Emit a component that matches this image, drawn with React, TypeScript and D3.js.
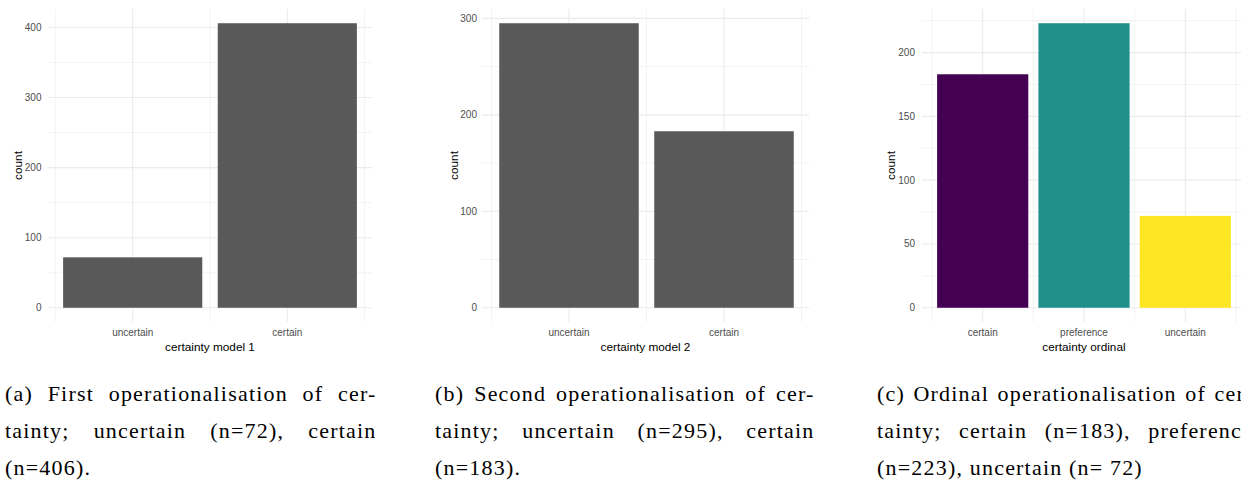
import React, { useEffect, useRef } from "react";
import * as d3 from "d3";

// ---- data ----
const model1Categories = ["uncertain", "certain"];
const model1Counts = [72, 406];
const model1Ticks = [0, 100, 200, 300, 400];

const model2Categories = ["uncertain", "certain"];
const model2Counts = [295, 183];
const model2Ticks = [0, 100, 200, 300];

const ordinalCategories = ["certain", "preference", "uncertain"];
const ordinalCounts = [183, 223, 72];
const ordinalTicks = [0, 50, 100, 150, 200];
const ordinalColors = ["#440154", "#21908C", "#FDE725"];

const captionA = ["(a) First operationalisation of cer-", "tainty; uncertain (n=72), certain", "(n=406)."];
const captionB = ["(b) Second operationalisation of cer-", "tainty; uncertain (n=295), certain", "(n=183)."];
const captionC = ["(c) Ordinal operationalisation of cer-", "tainty; certain (n=183), preference", "(n=223), uncertain (n= 72)"];

// ---- layout ----
const PANEL_TOP = 9;
const PANEL_BOTTOM = 322;
const SANS = "'Liberation Sans', Arial, sans-serif";
const SERIF = "Liberation Serif";
const CAP_SIZE = 22;
const CAP_LETTER = 1.2;

const panels = [
  {
    cats: model1Categories, counts: model1Counts, ticks: model1Ticks, colors: null as string[] | null,
    title: "certainty model 1", firstCenter: 132.7, lastCenter: 287.3, left: 47.7, right: 372.3,
    tickRight: 41.5, countX: 21.5,
  },
  {
    cats: model2Categories, counts: model2Counts, ticks: model2Ticks, colors: null as string[] | null,
    title: "certainty model 2", firstCenter: 569, lastCenter: 724, left: 481.7, right: 809.3,
    tickRight: 477, countX: 458,
  },
  {
    cats: ordinalCategories, counts: ordinalCounts, ticks: ordinalTicks, colors: ordinalColors,
    title: "certainty ordinal", firstCenter: 982.7, lastCenter: 1185.3, left: 921.9, right: 1246,
    tickRight: 915, countX: 894.5,
  },
];

const captions = [
  { lines: captionA, x: 5, width: 371.5 },
  { lines: captionB, x: 435, width: 379.5 },
  { lines: captionC, x: 877, width: 376 },
];
const captionBaselines = [401, 438, 475];

function Panel({ p }: { p: (typeof panels)[number] }) {
  const max = d3.max(p.counts) as number;
  const y = d3.scaleLinear().domain([-0.05 * max, 1.05 * max]).range([PANEL_BOTTOM, PANEL_TOP]);
  const x = d3.scaleLinear().domain([1, p.cats.length]).range([p.firstCenter, p.lastCenter]);
  const step = p.ticks[1] - p.ticks[0];
  const minor = p.ticks.map((t) => t + step / 2).filter((t) => t <= y.domain()[1]);
  const xMinor = d3.range(0, p.cats.length + 1).map((i) => i + 0.5);
  const unit = x(2) - x(1);
  const barW = 0.9 * unit;
  const grid = "#EBEBEB";
  return (
    <g>
      {minor.map((t) => (
        <line key={"hm" + t} x1={p.left} x2={p.right} y1={y(t)} y2={y(t)} stroke={grid} strokeWidth={0.6} />
      ))}
      {xMinor.map((t) => (
        <line key={"vm" + t} x1={x(t)} x2={x(t)} y1={PANEL_TOP} y2={PANEL_BOTTOM} stroke={grid} strokeWidth={0.6} />
      ))}
      {p.ticks.map((t) => (
        <line key={"h" + t} x1={p.left} x2={p.right} y1={y(t)} y2={y(t)} stroke={grid} strokeWidth={1.1} />
      ))}
      {p.cats.map((c, i) => (
        <line key={"v" + c} x1={x(i + 1)} x2={x(i + 1)} y1={PANEL_TOP} y2={PANEL_BOTTOM} stroke={grid} strokeWidth={1.1} />
      ))}
      {p.cats.map((c, i) => (
        <rect
          key={"b" + c}
          x={x(i + 1) - barW / 2}
          width={barW}
          y={y(p.counts[i])}
          height={y(0) - y(p.counts[i])}
          fill={p.colors ? p.colors[i] : "#595959"}
        />
      ))}
      {p.ticks.map((t) => (
        <text key={"yt" + t} x={p.tickRight} y={y(t)} dy="0.35em" textAnchor="end" fontSize={10} fill="#4D4D4D" fontFamily={SANS}>
          {t}
        </text>
      ))}
      {p.cats.map((c, i) => (
        <text key={"xt" + c} x={x(i + 1)} y={336} textAnchor="middle" fontSize={10} fill="#4D4D4D" fontFamily={SANS}>
          {c}
        </text>
      ))}
      <text x={(p.left + Math.min(p.right, 1246)) / 2} y={351} textAnchor="middle" fontSize={11.8} fill="#000" fontFamily={SANS}>
        {p.title}
      </text>
      <text
        transform={`translate(${p.countX},${(PANEL_TOP + PANEL_BOTTOM) / 2}) rotate(-90)`}
        textAnchor="middle"
        fontSize={11.8}
        fill="#000"
        fontFamily={SANS}
      >
        count
      </text>
    </g>
  );
}

export default function App() {
  const capRef = useRef<SVGGElement>(null);

  useEffect(() => {
    const g = d3.select(capRef.current);
    g.selectAll("*").remove();
    captions.forEach((cap) => {
      cap.lines.forEach((line, li) => {
        const words = line.split(" ");
        const texts = words.map((w) =>
          g
            .append("text")
            .attr("y", captionBaselines[li])
            .attr("font-family", SERIF)
            .attr("font-size", CAP_SIZE)
            .attr("letter-spacing", CAP_LETTER)
            .attr("fill", "#000")
            .text(w)
        );
        const widths = texts.map((t) => (t.node() as SVGTextElement).getComputedTextLength());
        const total = d3.sum(widths);
        const justify = li < cap.lines.length - 1;
        const spaceW = CAP_SIZE * 0.3;
        const gap = justify && words.length > 1 ? (cap.width - total) / (words.length - 1) : spaceW;
        let cx = cap.x;
        texts.forEach((t, i) => {
          t.attr("x", cx);
          cx += widths[i] + gap;
        });
      });
    });
  }, []);

  return (
    <svg
      width={1241}
      height={481}
      style={{ position: "absolute", left: 0, top: 0, background: "#fff" }}
    >
      <rect width={1241} height={481} fill="#fff" />
      {panels.map((p, i) => (
        <Panel key={i} p={p} />
      ))}
      <g ref={capRef} />
    </svg>
  );
}
